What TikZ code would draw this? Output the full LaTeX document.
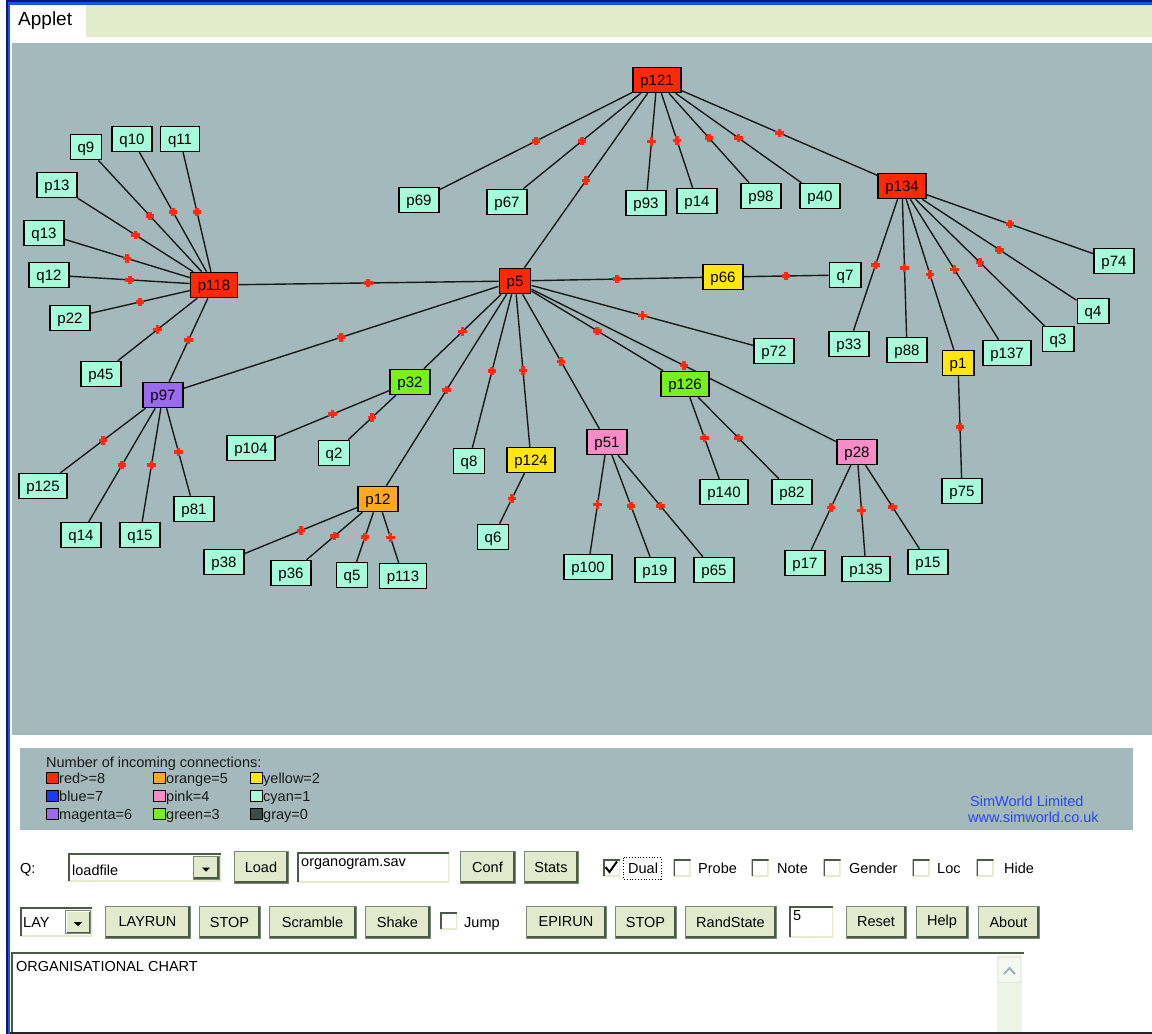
\documentclass[tikz,border=0pt]{standalone}
\usepackage{fontspec}
\setmainfont{Liberation Sans}
\pgfdeclarelayer{bg}
\pgfdeclarelayer{links}
\pgfsetlayers{bg,links,main}

\definecolor{canvas}{HTML}{A4B9BB}
\definecolor{tabbar}{HTML}{E3EBCD}
\definecolor{btnface}{HTML}{E2E9CD}
\definecolor{btndark}{HTML}{4A5A46}
\definecolor{btnedge}{HTML}{7A8A74}
\definecolor{frameblue}{HTML}{1E4FE8}
\definecolor{framenavy}{HTML}{0A1A70}
\definecolor{nred}{HTML}{FF2A05}
\definecolor{nyellow}{HTML}{FFE611}
\definecolor{norange}{HTML}{FFA820}
\definecolor{npink}{HTML}{F78CC6}
\definecolor{ngreen}{HTML}{78F020}
\definecolor{npurple}{HTML}{9A6AF0}
\definecolor{ncyan}{HTML}{A6FBDA}
\definecolor{nblue}{HTML}{1A3AF0}
\definecolor{ngray}{HTML}{3C4C4C}
\definecolor{mkred}{HTML}{FF2A10}
\definecolor{linkblue}{HTML}{2A48F0}
\definecolor{edgecol}{HTML}{1A1A1A}
\definecolor{scrollbg}{HTML}{EEF3E7}
\definecolor{sbedge}{HTML}{C4D2C0}
\definecolor{sbarrow}{HTML}{9FB3BF}

\newcommand\guifont{\fontsize{14.5}{17}\selectfont}
\newcommand\ndtext{\fontsize{15}{17}\selectfont}
% small red plus used as the direction marker on every link
\newcommand\linkplus{\makebox[0pt]{\rule[-1.9pt]{8.4pt}{3.8pt}}%
  \makebox[0pt]{\rule[-4.2pt]{3.8pt}{8.4pt}}}

\begin{document}
\begin{tikzpicture}[x=1pt,y=-1pt,
  nd/.style={draw=black, line width=1.5, inner xsep=7.4, inner ysep=0,
    minimum height=25, text height=10.8, text depth=0, font=\ndtext},
  rednd/.style={nd, fill=nred},
  yelnd/.style={nd, fill=nyellow},
  orgnd/.style={nd, fill=norange},
  pinknd/.style={nd, fill=npink},
  grnnd/.style={nd, fill=ngreen},
  purnd/.style={nd, fill=npurple},
  cyannd/.style={nd, fill=ncyan},
  lnk/.style={draw=edgecol, line width=1.4},
  mk/.style={inner sep=0, text=mkred, font=\normalsize},
  swatch/.style={draw=black, line width=1, minimum width=12, minimum height=11,
    inner sep=0, anchor=north west},
  lgtxt/.style={anchor=base west, inner sep=0, font=\guifont, text=black!90},
  gtxt/.style={anchor=base west, inner sep=0, font=\guifont},
  btn/.style={fill=btnface, draw=btnedge, line width=0.6, minimum height=32,
    inner sep=0, font=\guifont,
    path picture={
      \draw[btndark, line width=4] (path picture bounding box.south west)
        -- (path picture bounding box.south east) -- (path picture bounding box.north east);
      \draw[white, line width=2] (path picture bounding box.south west)
        -- (path picture bounding box.north west) -- (path picture bounding box.north east);}},
  sunk/.style={fill=white, inner sep=0,
    path picture={
      \draw[tabbar, line width=3] (path picture bounding box.south west)
        -- (path picture bounding box.south east) -- (path picture bounding box.north east);
      \draw[btndark, line width=3] (path picture bounding box.south west)
        -- (path picture bounding box.north west) -- (path picture bounding box.north east);}},
  chk/.style={sunk, minimum size=17}
]
\useasboundingbox (0,0) rectangle (1152,1034);

% ---------- window chrome and panels ----------
\begin{pgfonlayer}{bg}
  \fill[white] (0,0) rectangle (1152,1034);
  \fill[framenavy] (6,0) rectangle (1152,1.5);
  \fill[frameblue] (6,1.5) rectangle (1152,5);
  \fill[framenavy] (6,0) rectangle (7.5,1034);
  \fill[frameblue] (7.5,1.5) rectangle (10,1034);
  \fill[tabbar] (86,5) rectangle (1152,37);
  \fill[canvas] (12,43) rectangle (1152,735);
  \fill[canvas] (20,748) rectangle (1133,830);
\end{pgfonlayer}
\node[anchor=west, inner sep=0, font=\fontsize{19}{22}\selectfont] (tab) at (18,21) {Applet};

% ---------- organisation graph ----------
\node[rednd] (p121) at (657,80) {p121};
\node[rednd] (p134) at (902,186) {p134};
\node[rednd] (p118) at (214,285) {p118};
\node[rednd] (p5) at (515,281) {p5};
\node[yelnd] (p66) at (723,277) {p66};
\node[yelnd] (p1) at (958,363) {p1};
\node[yelnd] (p124) at (531,460) {p124};
\node[orgnd] (p12) at (378,499) {p12};
\node[pinknd] (p51) at (607,442) {p51};
\node[pinknd] (p28) at (857,452) {p28};
\node[grnnd] (p32) at (410,382) {p32};
\node[grnnd] (p126) at (685,384) {p126};
\node[purnd] (p97) at (163,395) {p97};

\foreach \n/\x/\y in {p69/419/200, p67/507/202, p93/646/203, p14/697/201,
  p98/761/196, p40/820/196, p74/1114/261, q4/1093/311, q3/1058/339,
  p137/1007/353, p88/907/350, p33/849/344, q7/845/275, p75/962/491,
  p82/792/492, p17/805/563, p135/866/569, p15/928/562,
  q9/86/147, q10/132/139, q11/180/139, p13/57/185, q13/44/233, q12/49/275,
  p22/70/318, p45/101/374, p125/43/486, q14/81/535, q15/140/535, p81/194/509,
  p104/251/448, q2/334/453, p38/224/562, p36/291/573, q5/352/575, p113/403/576,
  p72/774/351, q8/469/461, q6/493/537, p100/588/567, p19/655/570, p65/714/570,
  p140/724/492}
  \node[cyannd] (\n) at (\x,\y) {\n};

\begin{pgfonlayer}{links}
\foreach \a/\b in {p121/p69, p121/p67, p121/p5, p121/p93, p121/p14, p121/p98,
  p121/p40, p121/p134,
  p134/p74, p134/q4, p134/q3, p134/p137, p134/p1, p134/p88, p134/p33, p1/p75,
  p118/p5, p5/p66, p5/p72, p5/p126, p5/p28, p5/p51, p5/p124, p5/q8, p5/p12,
  p5/p32, p97/p5, p66/q7,
  q9/p118, q10/p118, q11/p118, p13/p118, q13/p118, q12/p118, p22/p118,
  p45/p118, p97/p118,
  p97/p125, p97/q14, p97/q15, p97/p81,
  p32/p104, p32/q2,
  p12/p38, p12/p36, p12/q5, p12/p113,
  p124/q6, p51/p100, p51/p19, p51/p65,
  p126/p140, p126/p82, p28/p17, p28/p135, p28/p15}
  \draw[lnk] (\a) -- node[mk] {\linkplus} (\b);
\end{pgfonlayer}

% ---------- legend ----------
\node[lgtxt] (lgtitle) at (46,767) {Number of incoming connections:};
\node[swatch, fill=nred] (sw1) at (46,772) {};
\node[lgtxt] (lg1) at (59,783) {red>=8};
\node[swatch, fill=nblue] (sw2) at (46,790) {};
\node[lgtxt] (lg2) at (59,801) {blue=7};
\node[swatch, fill=npurple] (sw3) at (46,808) {};
\node[lgtxt] (lg3) at (59,819) {magenta=6};
\node[swatch, fill=norange] (sw4) at (153,772) {};
\node[lgtxt] (lg4) at (166,783) {orange=5};
\node[swatch, fill=npink] (sw5) at (153,790) {};
\node[lgtxt] (lg5) at (166,801) {pink=4};
\node[swatch, fill=ngreen] (sw6) at (153,808) {};
\node[lgtxt] (lg6) at (166,819) {green=3};
\node[swatch, fill=nyellow] (sw7) at (250,772) {};
\node[lgtxt] (lg7) at (263,783) {yellow=2};
\node[swatch, fill=ncyan] (sw8) at (250,790) {};
\node[lgtxt] (lg8) at (263,801) {cyan=1};
\node[swatch, fill=ngray] (sw9) at (250,808) {};
\node[lgtxt] (lg9) at (263,819) {gray=0};
\node[gtxt, text=linkblue] (corp) at (970,806) {SimWorld Limited};
\node[gtxt, text=linkblue] (url) at (968,822) {www.simworld.co.uk};

% ---------- control row 1 ----------
\node[gtxt] (qlabel) at (20,873) {Q:};
\node[sunk, minimum width=153, minimum height=28] (combo1) at (144.5,867) {};
\node[gtxt] (combo1txt) at (72,875) {loadfile};
\node[btn, minimum width=26, minimum height=23] (combo1btn) at (206,867.5) {};
\fill[black] (202,867.5) -- (210,867.5) -- (206,871.5) -- cycle;
\node[btn, minimum width=54] (bload) at (261,867) {Load};
\node[sunk, minimum width=152, minimum height=30] (fname) at (373,867) {};
\node[gtxt] (fnametxt) at (301,866) {organogram.sav};
\node[btn, minimum width=55] (bconf) at (487.5,867) {Conf};
\node[btn, minimum width=54] (bstats) at (551,867) {Stats};

\node[chk] (cdual) at (611.5,867.5) {};
\draw[black, line width=2] (605.5,867) -- (609.5,872) -- (617,861.5);
\node[gtxt] (tdual) at (628,873) {Dual};
\draw[black, line width=0.8, dotted] (623,857.5) rectangle (661,879);
\node[chk] (cprobe) at (682,867.5) {};
\node[gtxt] (tprobe) at (698,873) {Probe};
\node[chk] (cnote) at (760,867.5) {};
\node[gtxt] (tnote) at (777,873) {Note};
\node[chk] (cgender) at (832,867.5) {};
\node[gtxt] (tgender) at (849,873) {Gender};
\node[chk] (cloc) at (921,867.5) {};
\node[gtxt] (tloc) at (937,873) {Loc};
\node[chk] (chide) at (985,867.5) {};
\node[gtxt] (thide) at (1004,873) {Hide};

% ---------- control row 2 ----------
\node[sunk, minimum width=72, minimum height=29] (combo2) at (56,921.5) {};
\node[gtxt] (combo2txt) at (23,927) {LAY};
\node[btn, minimum width=25, minimum height=23] (combo2btn) at (78,922) {};
\fill[black] (74,922) -- (82,922) -- (78,926) -- cycle;
\node[btn, minimum width=85] (blayrun) at (147.5,922) {LAYRUN};
\node[btn, minimum width=61] (bstop1) at (229.5,922) {STOP};
\node[btn, minimum width=87] (bscramble) at (312.5,922) {Scramble};
\node[btn, minimum width=65] (bshake) at (397.5,922) {Shake};
\node[chk] (cjump) at (448.5,920.5) {};
\node[gtxt] (tjump) at (464,927) {Jump};
\node[btn, minimum width=80] (bepirun) at (566,922) {EPIRUN};
\node[btn, minimum width=61] (bstop2) at (645.5,922) {STOP};
\node[btn, minimum width=91] (brand) at (730.5,922) {RandState};
\node[sunk, minimum width=44, minimum height=31] (seed) at (811,921.5) {};
\node[gtxt] (seedtxt) at (793,920) {5};
\node[btn, minimum width=60] (breset) at (876,922) {Reset};
\node[btn, minimum width=52] (bhelp) at (942,922) {Help};
\node[btn, minimum width=61] (babout) at (1008.5,922) {About};

% ---------- message area ----------
\node[fill=white, inner sep=0, minimum width=1012, minimum height=90,
  anchor=north west] (console) at (12,953) {};
\draw[btndark, line width=2.5] (console.south west) -- (console.north west)
  -- (console.north east);
\node[gtxt] (consoletxt) at (16,971) {ORGANISATIONAL CHART};
\node[fill=scrollbg, inner sep=0, minimum width=25, minimum height=82,
  anchor=north west] (sbar) at (997,955) {};
\node[draw=sbedge, fill=scrollbg!60!white, rounded corners=2, inner sep=0,
  minimum width=23, minimum height=25] (sbup) at (1009.5,970) {};
\draw[sbarrow, line width=2] (1004,974) -- (1009.5,968) -- (1015,974);
\fill[black!85] (10,1032) rectangle (1152,1034);
\end{tikzpicture}
\end{document}
